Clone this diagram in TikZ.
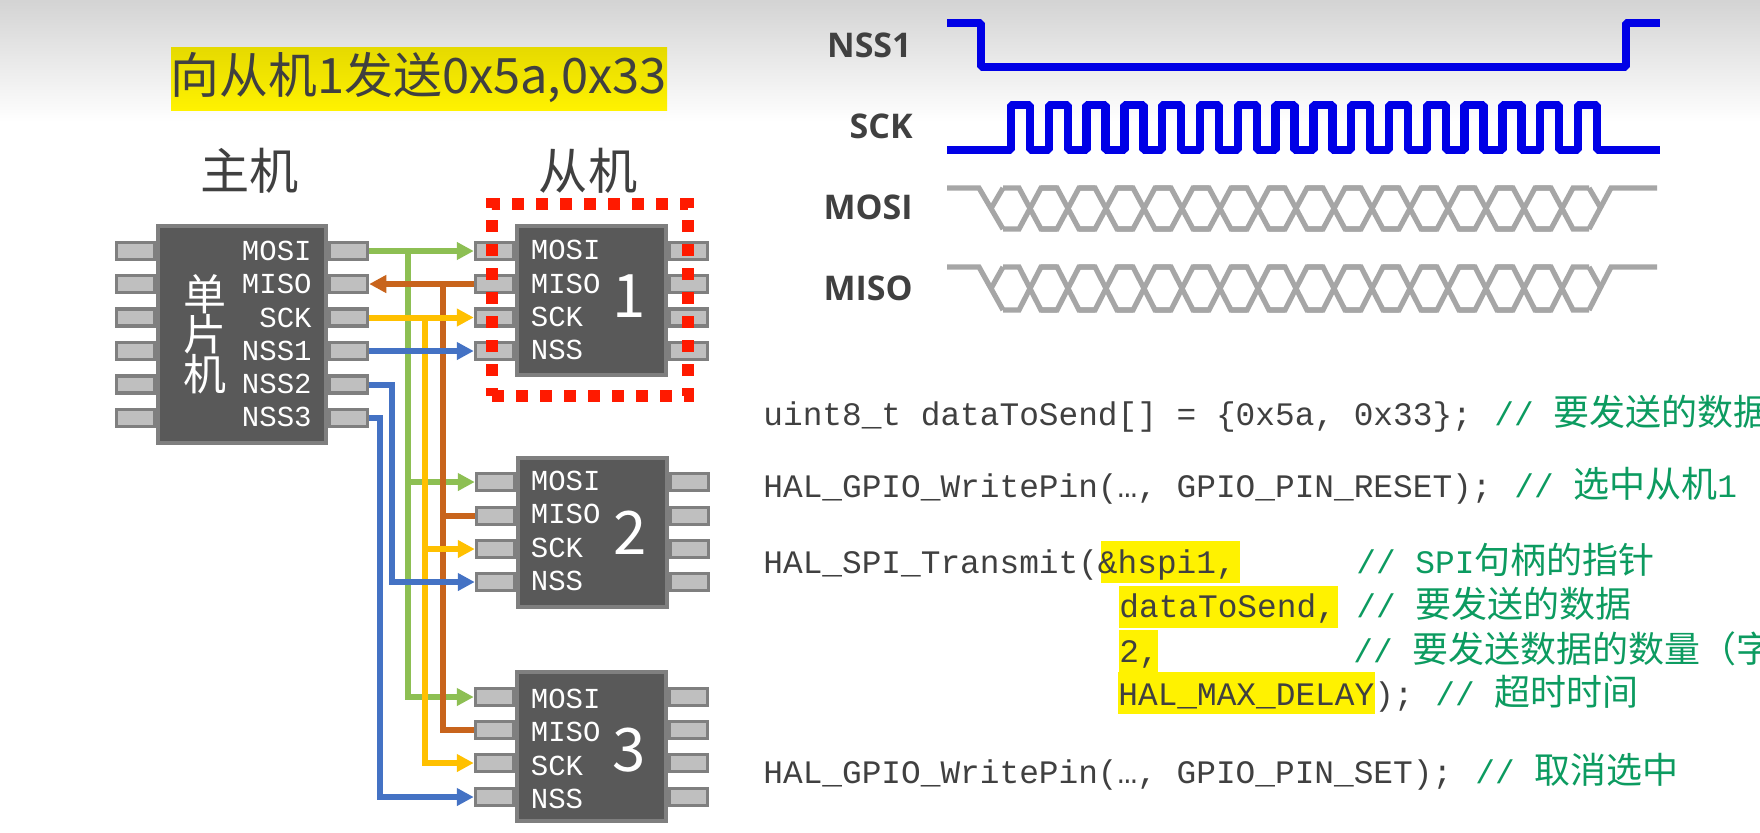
\documentclass[tikz,border=0pt]{standalone}
\usepackage{fontspec}
\usepackage{xcolor}
\usetikzlibrary{arrows.meta,positioning,calc}
\setmonofont{Liberation Mono}
\newfontfamily\cjk{Noto Sans CJK SC}
\newfontfamily\sigfont{Open Sans}
\definecolor{ink}{HTML}{404040}
\definecolor{chipfill}{HTML}{595959}
\definecolor{chipedge}{HTML}{7F7F7F}
\definecolor{pinfill}{HTML}{BFBFBF}
\definecolor{mosigreen}{HTML}{8DBF53}
\definecolor{misobrown}{HTML}{C8641C}
\definecolor{sckyellow}{HTML}{FFC000}
\definecolor{nssblue}{HTML}{4472C4}
\definecolor{selred}{HTML}{FF1A00}
\definecolor{wave}{HTML}{0000E6}
\definecolor{busgray}{HTML}{A6A6A6}
\definecolor{hlyellow}{HTML}{FFF200}
\definecolor{cmtgreen}{HTML}{0C9B60}
\newcommand{\zh}[1]{{\cjk\fontsize{18}{18}\selectfont #1}}

\begin{document}
\begin{tikzpicture}[
  x=0.5pt,y=-0.5pt,
  chip/.style={draw=chipedge,fill=chipfill,line width=2pt,inner sep=0pt},
  pin/.style={draw=chipedge,fill=pinfill,line width=1.75pt,inner sep=0pt,minimum width=19pt,minimum height=8.5pt},
  lbl/.style={text=white,inner sep=0pt,font=\ttfamily\fontsize{14.5}{14.5}\selectfont},
  num/.style={text=white,inner sep=0pt,font=\cjk\fontsize{30}{30}\selectfont},
  head/.style={text=ink,inner sep=0pt,font=\cjk\fontsize{24.6}{24.6}\selectfont},
  sig/.style={text=ink,inner sep=0pt,anchor=base east,font=\sigfont\bfseries\fontsize{17}{17}\selectfont},
  code/.style={text=ink,inner sep=0pt,anchor=base west,font=\ttfamily\fontsize{16.4}{16.4}\selectfont},
  cmt/.style={code,text=cmtgreen},
  fl/.style={-{Triangle[length=8.5pt,width=8.5pt]},line width=3pt},
  tap/.style={line width=3pt},
  clk/.style={draw=wave,line width=4.2pt,line join=bevel},
  bus/.style={draw=busgray,line width=2.6pt}
]
\useasboundingbox (0,0) rectangle (1760,832);
\fill[white] (0,0) rectangle (1760,832);
\shade[top color=black!17,bottom color=white] (0,0) rectangle (1760,122);

% title and headings
\shade[top color=hlyellow!90!black,bottom color=hlyellow] (171,47) rectangle (667,110);
\node[head,font=\cjk\fontsize{24.4}{24.4}\selectfont] (title) at (419,78) {向从机1发送0x5a,0x33};
\node[head] (mhead) at (249.5,171) {主机};
\node[head] (shead) at (588,171) {从机};

% pins
\foreach \i/\y in {1/251,2/284,3/317.5,4/351,5/384.5,6/418} {
  \node[pin] (ml\i) at (135.5,\y) {};
  \node[pin] (mr\i) at (348.5,\y) {};
}
\foreach \i/\y in {1/251,2/284,3/317.5,4/351} {
  \node[pin] (ao\i) at (494.5,\y) {};
  \node[pin] (ax\i) at (688.5,\y) {};
}
\foreach \i/\y in {1/482,2/516,3/549,4/582} {
  \node[pin] (bo\i) at (495.5,\y) {};
  \node[pin] (bx\i) at (689.5,\y) {};
}
\foreach \i/\y in {1/697,2/730,3/763,4/797} {
  \node[pin] (co\i) at (494.5,\y) {};
  \node[pin] (cx\i) at (688.5,\y) {};
}

% chips
\node[chip,minimum width=84pt,minimum height=108.5pt] (master) at (242,334.5) {};
\node[chip,minimum width=74.25pt,minimum height=74.5pt] (slavea) at (591.7,300.5) {};
\node[chip,minimum width=74.25pt,minimum height=74.5pt] (slaveb) at (592.5,532.5) {};
\node[chip,minimum width=74.25pt,minimum height=74.5pt] (slavec) at (591.7,746.5) {};

\node[text=white,inner sep=0pt,align=center,font=\cjk\fontsize{21.5}{20}\selectfont] (mcu) at (204.5,334) {单\\片\\机};
\node[lbl,anchor=east] (mlmosi) at (312,251) {MOSI};
\node[lbl,anchor=east] (mlmiso) at (312,284) {MISO};
\node[lbl,anchor=east] (mlsck) at (312,317.5) {SCK};
\node[lbl,anchor=east] (mlnssa) at (312,351) {NSS1};
\node[lbl,anchor=east] (mlnssb) at (312,384) {NSS2};
\node[lbl,anchor=east] (mlnssc) at (312,417) {NSS3};
\node[lbl,anchor=west] (almosi) at (530.5,250) {MOSI};
\node[lbl,anchor=west] (almiso) at (530.5,284) {MISO};
\node[lbl,anchor=west] (alsck) at (530.5,317) {SCK};
\node[lbl,anchor=west] (alnss) at (530.5,350) {NSS};
\node[num] (numa) at (629,296) {1};
\node[lbl,anchor=west] (blmosi) at (530.5,481) {MOSI};
\node[lbl,anchor=west] (blmiso) at (530.5,514) {MISO};
\node[lbl,anchor=west] (blsck) at (530.5,547.5) {SCK};
\node[lbl,anchor=west] (blnss) at (530.5,581) {NSS};
\node[num] (numb) at (630,533) {2};
\node[lbl,anchor=west] (clmosi) at (530.5,699) {MOSI};
\node[lbl,anchor=west] (clmiso) at (530.5,732) {MISO};
\node[lbl,anchor=west] (clsck) at (530.5,766) {SCK};
\node[lbl,anchor=west] (clnss) at (530.5,798.5) {NSS};
\node[num] (numc) at (629,750) {3};

% wires
\coordinate (mosibus) at (408,251);
\coordinate (misobus) at (443,284);
\coordinate (sckbus) at (425,317.5);
\coordinate (nssbbus) at (392,384.5);
\coordinate (nsscbus) at (380,418);
\draw[fl,draw=mosigreen] (mr1.east) -- (ao1.west);
\draw[fl,draw=mosigreen] (mosibus) |- (bo1.west);
\draw[fl,draw=mosigreen] (mosibus) |- (co1.west);
\draw[fl,draw=misobrown] (ao2.west) -- (mr2.east);
\draw[tap,draw=misobrown] (misobus) |- (bo2.west);
\draw[tap,draw=misobrown] (misobus) |- (co2.west);
\draw[fl,draw=sckyellow] (mr3.east) -- (ao3.west);
\draw[fl,draw=sckyellow] (sckbus) |- (bo3.west);
\draw[fl,draw=sckyellow] (sckbus) |- (co3.west);
\draw[fl,draw=nssblue] (mr4.east) -- (ao4.west);
\draw[fl,draw=nssblue] (mr5.east) -- (nssbbus) |- (bo4.west);
\draw[fl,draw=nssblue] (mr6.east) -- (nsscbus) |- (co4.west);

% selected slave
\node[draw=selred,line width=6pt,dash pattern=on 6pt off 6pt,minimum width=98pt,minimum height=96pt,inner sep=0pt] (sel) at (590,300) {};

% timing
\node[sig] (signssa) at (912,57) {NSS1};
\node[sig] (sigsck) at (913,138) {SCK};
\node[sig] (sigmosi) at (913,219) {MOSI};
\node[sig] (sigmiso) at (913,300) {MISO};
\draw[clk] (947,23) -- (981,23) -- (981,67) -- (1626,67) -- (1626,23) -- (1660,23);
\draw[clk] (947,150) -- (1011,150)
  \foreach \k in {0,...,15} { -- ({1011+\k*37.8},105) -- ({1029.9+\k*37.8},105) -- ({1029.9+\k*37.8},150) -- ({1048.8+\k*37.8},150) }
  -- (1660,150);
\foreach \hi/\lo in {188/229,267/310} {
  \draw[bus] (947,\hi) -- (979,\hi) -- (1003,\lo);
  \draw[bus] ($(991,\hi)!0.5!(991,\lo)$) -- (1003,\hi);
  \foreach \k in {0,...,14} {
    \draw[bus] ({1003+\k*38},\hi) -- ({1019+\k*38},\hi) -- ({1041+\k*38},\lo) -- ({1057+\k*38},\lo);
    \draw[bus] ({1003+\k*38},\lo) -- ({1019+\k*38},\lo) -- ({1041+\k*38},\hi) -- ({1057+\k*38},\hi);
  }
  \draw[bus] (1589,\hi) -- ($(1601,\hi)!0.5!(1601,\lo)$);
  \draw[bus] (1589,\lo) -- (1611,\hi) -- (1657,\hi);
}

% code
\fill[hlyellow] (1101,541) rectangle (1239.5,583);
\fill[hlyellow] (1119,586) rectangle (1337.5,628);
\fill[hlyellow] (1119,630) rectangle (1158,672);
\fill[hlyellow] (1118,672) rectangle (1375,714);
\node[code] (lsend) at (763,425) {uint8\_t dataToSend[] = \{0x5a, 0x33\};};
\node[cmt] (csend) at (1494,425) {// \zh{要发送的数据}};
\node[code] (lreset) at (763,497) {HAL\_GPIO\_WritePin(…, GPIO\_PIN\_RESET);};
\node[cmt] (creset) at (1514,497) {// \zh{选中从机}1};
\node[code] (ltx) at (763,573) {HAL\_SPI\_Transmit(\&hspi1,};
\node[cmt] (ctx) at (1356,573) {// SPI\zh{句柄的指针}};
\node[code] (ldata) at (1119,617) {dataToSend,};
\node[cmt] (cdata) at (1356,617) {// \zh{要发送的数据}};
\node[code] (lsize) at (1119,662) {2,};
\node[cmt] (csize) at (1353,662) {// \zh{要发送数据的数量（字}};
\node[code] (ldelay) at (1118,705) {HAL\_MAX\_DELAY);};
\node[cmt] (cdelay) at (1435,705) {// \zh{超时时间}};
\node[code] (lset) at (763,783) {HAL\_GPIO\_WritePin(…, GPIO\_PIN\_SET);};
\node[cmt] (cset) at (1475,783) {// \zh{取消选中}};
\end{tikzpicture}
\end{document}
